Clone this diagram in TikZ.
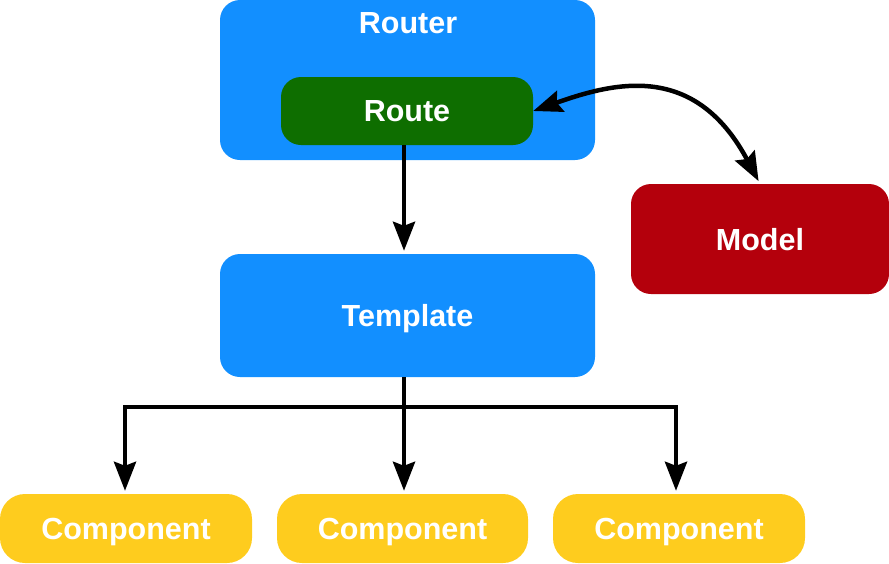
\documentclass[tikz,border=0pt]{standalone}
\usepackage{fontspec}
\setmainfont{Liberation Sans}
\usetikzlibrary{arrows.meta}
\definecolor{routerblue}{RGB}{18,143,255}
\definecolor{routegreen}{RGB}{14,110,0}
\definecolor{modelred}{RGB}{180,0,12}
\definecolor{compyellow}{RGB}{254,204,30}
\tikzset{
    box/.style={rectangle, rounded corners=20pt, inner sep=0pt, text=white, text depth=0pt,
        font=\fontsize{30.5}{36}\selectfont\bfseries},
    tip/.tip={Stealth[length=29pt, width=22pt, inset=4pt]},
    flow/.style={line width=4.5pt, -tip, shorten >=3pt}
}
\begin{document}
\begin{tikzpicture}[x=1pt, y=-1pt]
    \useasboundingbox (0,0) rectangle (889,563);
    % router with its route
    \node[box, fill=routerblue, minimum width=375pt, minimum height=160pt] (router) at (407.5,80) {};
    \node[box] (routertitle) at (408,23) {Router};
    \node[box, fill=routegreen, minimum width=252pt, minimum height=68pt] (route) at (407,111) {Route};
    % template and model
    \node[box, fill=routerblue, minimum width=375pt, minimum height=123pt] (tmpl) at (407.5,315.5) {Template};
    \node[box, fill=modelred, minimum width=258pt, minimum height=110pt] (model) at (760,239) {Model};
    % components
    \node[box, rounded corners=25pt, fill=compyellow, minimum width=252pt, minimum height=69pt] (comp1) at (126,528.5) {Component};
    \node[box, rounded corners=25pt, fill=compyellow, minimum width=251pt, minimum height=69pt] (comp2) at (402.5,528.5) {Component};
    \node[box, rounded corners=25pt, fill=compyellow, minimum width=252pt, minimum height=69pt] (comp3) at (679,528.5) {Component};
    \coordinate (split) at (404,407);
    % connectors
    \draw[flow] (route.south -| split) -- (tmpl.north -| split);
    \draw[flow, shorten <=0pt, tip-tip]
        (route.east) .. controls (615,82) and (695,62) .. (model.north);
    \draw[flow] (tmpl.south -| split) -- (comp2.north -| split);
    \draw[flow] (split) -| ([xshift=-1pt]comp1.north);
    \draw[flow] (split) -| ([xshift=-3pt]comp3.north);
\end{tikzpicture}
\end{document}
